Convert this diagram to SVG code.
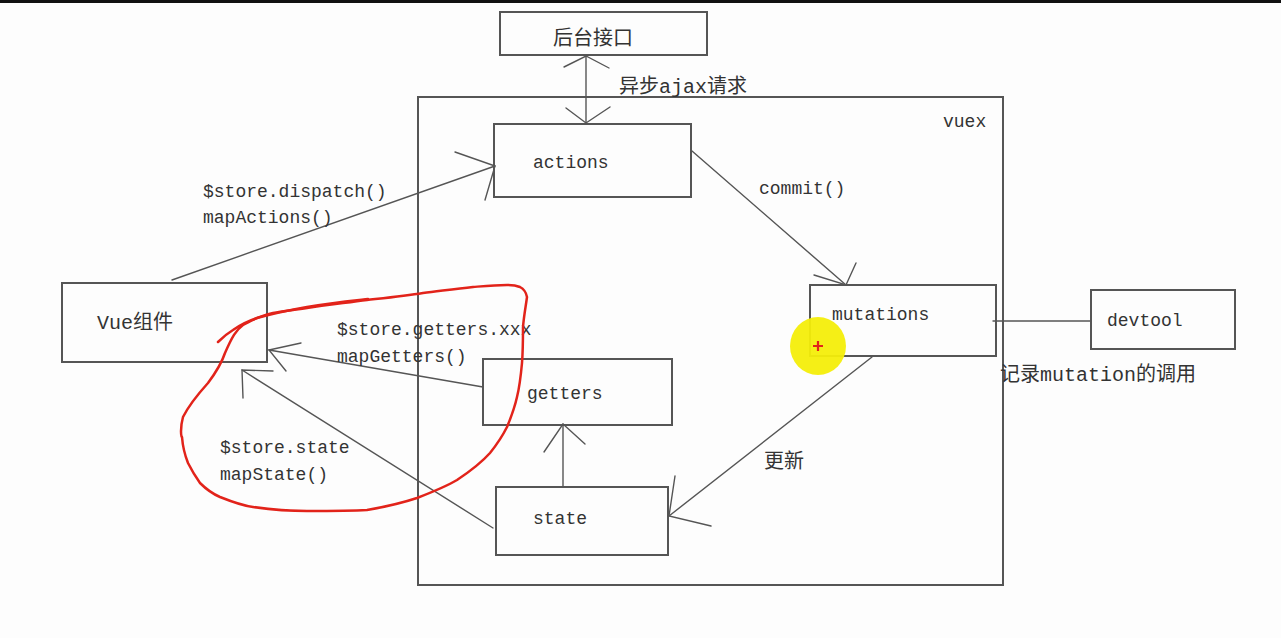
<svg xmlns="http://www.w3.org/2000/svg" width="1281" height="638" viewBox="0 0 1281 638">
<style>
  .box { fill: none; stroke: #555; stroke-width: 2; }
  .ln { fill: none; stroke: #555; stroke-width: 1.4; stroke-linecap: round; }
  .t { font-family: "Liberation Mono", "Noto Sans CJK SC", monospace; font-size: 18px; fill: #333; }
  .c { font-family: "Liberation Mono", "Noto Sans CJK SC", monospace; font-size: 20px; fill: #333; }
  .red { fill: none; stroke: #e2231a; stroke-width: 2.5; stroke-linecap: round; stroke-linejoin: round; }
</style>
<rect x="0" y="0" width="1281" height="638" fill="#fdfdfd"/>
<rect x="0" y="0" width="1281" height="3" fill="#111"/>

<g id="vuex">
  <rect class="box" x="418" y="97" width="585" height="488"/>
  <text class="t" x="943" y="127">vuex</text>
</g>
<g id="backend">
  <rect class="box" x="500" y="12" width="207" height="43"/>
  <text class="c" x="553" y="45">后台接口</text>
</g>
<g id="actions">
  <rect class="box" x="494" y="124" width="197" height="73"/>
  <text class="t" x="533" y="168">actions</text>
</g>
<g id="mutations">
  <rect class="box" x="810" y="285" width="186" height="71"/>
  <text class="t" x="832" y="320">mutations</text>
</g>
<g id="devtool">
  <rect class="box" x="1091" y="290" width="144" height="59"/>
  <text class="t" x="1107" y="326">devtool</text>
</g>
<g id="vue-component">
  <rect class="box" x="62" y="283" width="205" height="79"/>
  <text class="c" x="97" y="329">Vue组件</text>
</g>
<g id="getters">
  <rect class="box" x="483" y="359" width="189" height="66"/>
  <text class="t" x="527" y="399">getters</text>
</g>
<g id="state">
  <rect class="box" x="496" y="487" width="172" height="68"/>
  <text class="t" x="533" y="524">state</text>
</g>

<g id="connectors">
  <!-- backend <-> actions -->
  <path class="ln" d="M586 56 L586 123"/>
  <path class="ln" d="M564 67 L586 56 L609 68"/>
  <path class="ln" d="M566 108 L586 123 L610 107"/>
  <!-- Vue -> actions -->
  <path class="ln" d="M172 280 L495 166"/>
  <path class="ln" d="M455 152 L495 166 L485 200"/>
  <!-- actions -> mutations -->
  <path class="ln" d="M692 151 L846 285"/>
  <path class="ln" d="M814 275 L846 285 L856 263"/>
  <!-- mutations -> devtool -->
  <path class="ln" d="M993 321 L1091 321"/>
  <!-- mutations -> state -->
  <path class="ln" d="M872 357 L669 516"/>
  <path class="ln" d="M675 476 L669 516 L711 526"/>
  <!-- state -> getters -->
  <path class="ln" d="M563 486 L563 424"/>
  <path class="ln" d="M544 452 L563 424 L585 444"/>
  <!-- getters -> Vue -->
  <path class="ln" d="M483 387 L269 350"/>
  <path class="ln" d="M301 343 L269 350 L286 371"/>
  <!-- state -> Vue -->
  <path class="ln" d="M493 528 L242 370"/>
  <path class="ln" d="M273 371 L242 370 L243 398"/>
</g>

<g id="labels">
  <text class="c" x="619" y="93">异步ajax请求</text>
  <text class="t" x="759" y="194">commit()</text>
  <text class="t" x="203" y="197">$store.dispatch()</text>
  <text class="t" x="203" y="223">mapActions()</text>
  <text class="t" x="337" y="335">$store.getters.xxx</text>
  <text class="t" x="337" y="362">mapGetters()</text>
  <text class="t" x="220" y="453">$store.state</text>
  <text class="t" x="220" y="480">mapState()</text>
  <text class="c" x="1000" y="381" font-size="19">记录mutation的调用</text>
  <text class="c" x="764" y="468">更新</text>
</g>

<g id="annotation">
  <path class="red" d="M243 325 C236 330 232 337 225 353 C222 362 214 375 208 383 C199 393 190 403 183 417 C180 428 181 437 182 437 C183 450 186 458 188 463 C193 473 200 483 200 483 C207 490 213 494 220 497 C235 503 245 506 253 507 C275 510 290 511 307 511 C330 511 350 511 367 510 C390 506 405 502 417 498 C435 491 447 486 457 480 C472 470 482 462 490 453 C498 443 503 435 507 427 C512 415 515 406 517 397 C520 385 521 374 522 363 C523 350 523 338 523 327 C524 315 526 305 527 297 C526 292 524 289 520 287 C515 285 511 285 507 285 C495 285 485 286 473 287 C455 289 440 291 423 293 C405 296 385 298 367 300 C345 303 325 305 307 308 C295 310 283 311 273 313 C265 315 258 317 253 320 C249 322 246 323 243 325"/>
  <path class="red" d="M218 342 C223 337 228 333 233 330 C240 325 248 321 257 318 C275 313 290 310 307 307 C330 303 350 301 368 299"/>
  <ellipse cx="818" cy="346" rx="28" ry="29" fill="#f4ee0a" opacity="0.95"/>
  <path d="M813 346 L823 346 M818 341 L818 351" stroke="#e2231a" stroke-width="2.2"/>
</g>
</svg>
